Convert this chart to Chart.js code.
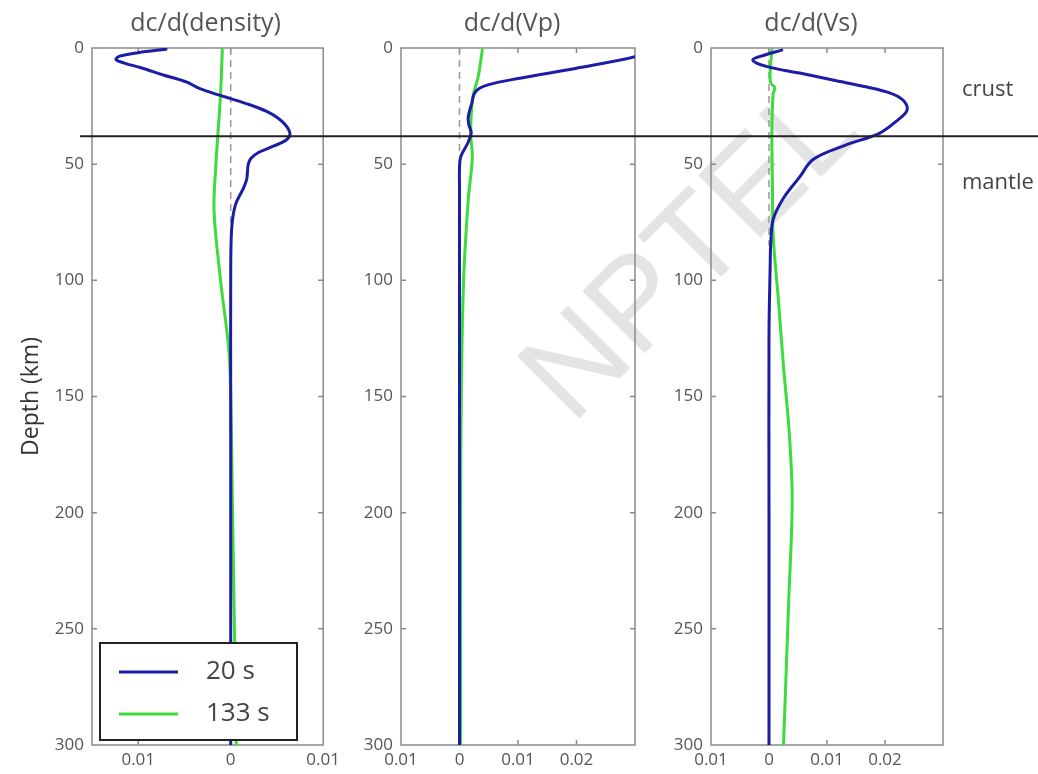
<!DOCTYPE html>
<html>
<head>
<meta charset="utf-8">
<script src="https://cdn.jsdelivr.net/npm/chart.js@4.4.0/dist/chart.umd.min.js"></script>
<style>
  body { margin: 0; background: #fff; }
  #wrap { position: relative; width: 1038px; height: 774px; overflow: hidden; }
  .panel { position: absolute; top: 0; height: 774px; }
  #watermark {
    position: absolute; left: 572px; top: 318px;
    transform-origin: 0 108px;
    transform: rotate(-45deg);
    font: 128px/1 "Liberation Sans", Arial, sans-serif;
    color: #e4e4e4; white-space: nowrap;
  }
</style>
</head>
<body>
<div id="wrap">
  <div id="watermark">NPTEL</div>
  <div class="panel" style="left:0;width:345px"><canvas id="p1"></canvas></div>
  <div class="panel" style="left:345px;width:315px"><canvas id="p2"></canvas></div>
  <div class="panel" style="left:660px;width:378px"><canvas id="p3"></canvas></div>
</div>
<script>
// labels
const periods = ['20 s', '133 s'];
const panelTitles = ['dc/d(density)', 'dc/d(Vp)', 'dc/d(Vs)'];
const layerNames = ['crust', 'mantle'];
const layerDepths = [18, 58];
const mohoDepth = 38;
const zeroLineEnd = [78, 45, 85];

const xTicks1 = [-0.01, 0, 0.01];
const xLabels1 = ['0.01', '0', '0.01'];
const xTicks23 = [-0.01, 0, 0.01, 0.02];
const xLabels23 = ['0.01', '0', '0.01', '0.02'];

// dc/d(density)
const densDepth20 = [0.5, 2, 3.5, 5, 6.5, 8.5, 11.6, 14.6, 17.4, 20.2, 23.8, 27.5, 31.8, 36.6, 39.6, 42.6, 45, 47.5, 50, 54, 57, 61, 67.6, 78, 100, 150, 200, 250, 300];
const dens20 = [-0.0070, -0.0100, -0.0120, -0.0124, -0.0115, -0.0097, -0.0073, -0.0048, -0.0034, -0.0013, 0.0016, 0.0040, 0.0056, 0.0064, 0.0060, 0.0044, 0.0030, 0.0022, 0.0019, 0.0018, 0.0017, 0.0013, 0.0005, 0.0001, 0.0, 0.0, 0.0, 0.0, 0.0];
const densDepth133 = [0, 20, 38, 50, 70, 100, 130, 150, 200, 250, 300];
const dens133 = [-0.0009, -0.0011, -0.0014, -0.0016, -0.0018, -0.0011, -0.0002, 0.0, 0.0002, 0.0004, 0.0006];

// dc/d(Vp)
const vpDepth20 = [0, 3.8, 8.7, 13, 16, 18.9, 23.8, 29.6, 33, 36.6, 41, 46.9, 52, 60, 100, 150, 200, 250, 300];
const vp20 = [0.034, 0.030, 0.020, 0.0103, 0.0047, 0.0027, 0.0021, 0.0015, 0.0016, 0.0020, 0.0014, 0.0002, 0.0, 0.0, 0.0, 0.0, 0.0, 0.0, 0.0];
const vpDepth133 = [0.9, 12.4, 16.8, 22.4, 36.6, 47, 65, 100, 150, 200, 300];
const vp133 = [0.0039, 0.0032, 0.0027, 0.0022, 0.0019, 0.0022, 0.0015, 0.0007, 0.0003, 0.0002, 0.0002];

// dc/d(Vs)
const vsDepth20 = [0.9, 3, 5.2, 8, 10.8, 13.8, 16.8, 19.4, 22.4, 26.7, 31, 36.6, 42, 48, 55.5, 65, 74, 84, 94, 123, 200, 300];
const vs20 = [0.0022, -0.0007, -0.0028, -0.0003, 0.0053, 0.0110, 0.0169, 0.0209, 0.0231, 0.0238, 0.0222, 0.0191, 0.0130, 0.0076, 0.0053, 0.0024, 0.0007, 0.0003, 0.0002, 0.0, 0.0, 0.0];
const vsDepth133 = [0.9, 10, 15, 17, 20, 36.6, 60, 80, 108, 137, 166, 195, 238, 300];
const vs133 = [0.0005, 0.0002, 0.0003, 0.0010, 0.0007, 0.0005, 0.0006, 0.0007, 0.0016, 0.0025, 0.0035, 0.0040, 0.0034, 0.0025];

const blue = '#1c1ca6';
const green = '#3ddc3d';

Chart.defaults.font.family = '"Open Sans", sans-serif';
Chart.defaults.animation = false;

function pts(depths, vals) {
  return depths.map((d, i) => ({ x: vals[i], y: d }));
}

function curve(label, color, depths, vals) {
  return {
    label: label, data: pts(depths, vals), showLine: true,
    borderColor: color, backgroundColor: color, borderWidth: 3,
    pointRadius: 0, tension: 0.35, borderJoinStyle: 'round', borderCapStyle: 'round'
  };
}

function zeroLine(end) {
  return {
    label: 'zero', data: [{ x: 0, y: 0 }, { x: 0, y: end }], showLine: true,
    borderColor: '#999', borderWidth: 1.5, borderDash: [7, 5], pointRadius: 0
  };
}

const framePlugin = {
  id: 'frame',
  beforeDatasetsDraw(chart) {
    const { ctx, chartArea: a, scales: { x, y } } = chart;
    ctx.save();
    ctx.strokeStyle = '#8a8a8a';
    ctx.lineWidth = 1.5;
    ctx.strokeRect(a.left, a.top, a.width, a.height);
    ctx.beginPath();
    y.ticks.forEach(t => {
      const py = y.getPixelForValue(t.value);
      if (py > a.top + 2 && py < a.bottom - 2) {
        ctx.moveTo(a.left, py); ctx.lineTo(a.left + 5, py);
        ctx.moveTo(a.right, py); ctx.lineTo(a.right - 5, py);
      }
    });
    x.ticks.forEach(t => {
      const px = x.getPixelForValue(t.value);
      if (px > a.left + 2 && px < a.right - 2) {
        ctx.moveTo(px, a.top); ctx.lineTo(px, a.top + 5);
        ctx.moveTo(px, a.bottom); ctx.lineTo(px, a.bottom - 5);
      }
    });
    ctx.stroke();
    ctx.restore();
  },
  afterDatasetsDraw(chart, args, opts) {
    const { ctx, chartArea: a, scales: { y } } = chart;
    ctx.save();
    // title
    ctx.fillStyle = '#555';
    ctx.font = '25px "Open Sans"';
    ctx.textAlign = 'center';
    ctx.textBaseline = 'middle';
    ctx.fillText(opts.title, (a.left + a.right) / 2 + opts.titleShift, 24);
    // crust / mantle boundary
    const my = y.getPixelForValue(mohoDepth);
    ctx.strokeStyle = '#222';
    ctx.lineWidth = 2;
    ctx.beginPath();
    ctx.moveTo(opts.mohoFrom, my);
    ctx.lineTo(chart.width, my);
    ctx.stroke();
    if (opts.layers) {
      ctx.fillStyle = '#444';
      ctx.font = '22px "Open Sans"';
      ctx.textAlign = 'left';
      layerNames.forEach((n, i) => {
        ctx.fillText(n, a.right + 19, y.getPixelForValue(layerDepths[i]));
      });
    }
    if (opts.legend) {
      const bx = a.left + 8, by = a.bottom - 102, bw = 197, bh = 97;
      ctx.fillStyle = '#fff';
      ctx.fillRect(bx, by, bw, bh);
      ctx.strokeStyle = '#222';
      ctx.lineWidth = 2;
      ctx.strokeRect(bx, by, bw, bh);
      ctx.font = '26px "Open Sans"';
      ctx.textAlign = 'left';
      chart.data.datasets.slice(0, 2).forEach((ds, i) => {
        const ly = by + 29 + i * 42;
        ctx.strokeStyle = ds.borderColor;
        ctx.lineWidth = 3;
        ctx.beginPath();
        ctx.moveTo(bx + 19, ly);
        ctx.lineTo(bx + 78, ly);
        ctx.stroke();
        ctx.fillStyle = '#444';
        ctx.fillText(ds.label, bx + 106, ly);
      });
    }
    ctx.restore();
  }
};

function xAxis(min, max, vals, labels) {
  return {
    type: 'linear', position: 'bottom', min: min, max: max,
    afterBuildTicks: s => { s.ticks = vals.map(v => ({ value: v })); },
    afterFit: s => { s.height = 29; },
    grid: { display: false, drawTicks: false },
    border: { display: false },
    ticks: {
      padding: 5, color: '#555', font: { size: 17 }, maxRotation: 0, autoSkip: false,
      callback: (v, i) => labels[i]
    }
  };
}

function yAxis(width, showTitle) {
  return {
    type: 'linear', reverse: true, min: 0, max: 300,
    afterFit: s => { s.width = width; },
    grid: { display: false, drawTicks: false },
    border: { display: false },
    ticks: { stepSize: 50, padding: 8, color: '#555', font: { size: 17 } },
    title: {
      display: showTitle, text: 'Depth (km)', color: '#333',
      font: { size: 23 }, padding: { top: 18, bottom: 0 }
    }
  };
}

function makePanel(id, datasets, xMin, xMax, xVals, xLabels, yWidth, padRight, frameOpts, showTitle) {
  new Chart(document.getElementById(id), {
    type: 'scatter',
    data: { datasets: datasets },
    plugins: [framePlugin],
    options: {
      responsive: true,
      maintainAspectRatio: false,
      layout: { padding: { top: 48, right: padRight, bottom: 0, left: 0 } },
      scales: { x: xAxis(xMin, xMax, xVals, xLabels), y: yAxis(yWidth, showTitle) },
      plugins: { legend: { display: false }, tooltip: { enabled: false }, frame: frameOpts }
    }
  });
}

makePanel('p1', [
  curve(periods[0], blue, densDepth20, dens20),
  curve(periods[1], green, densDepth133, dens133),
  zeroLine(zeroLineEnd[0])
], -0.015, 0.01, xTicks1, xLabels1, 92, 19,
  { title: panelTitles[0], titleShift: -2, mohoFrom: 80, layers: false, legend: true }, true);

makePanel('p2', [
  curve(periods[0], blue, vpDepth20, vp20),
  curve(periods[1], green, vpDepth133, vp133),
  zeroLine(zeroLineEnd[1])
], -0.01, 0.03, xTicks23, xLabels23, 56, 25,
  { title: panelTitles[1], titleShift: -6, mohoFrom: 0, layers: false, legend: false }, false);

makePanel('p3', [
  curve(periods[0], blue, vsDepth20, vs20),
  curve(periods[1], green, vsDepth133, vs133),
  zeroLine(zeroLineEnd[2])
], -0.01, 0.03, xTicks23, xLabels23, 51, 95,
  { title: panelTitles[2], titleShift: -16, mohoFrom: 0, layers: true, legend: false }, false);
</script>
</body>
</html>
